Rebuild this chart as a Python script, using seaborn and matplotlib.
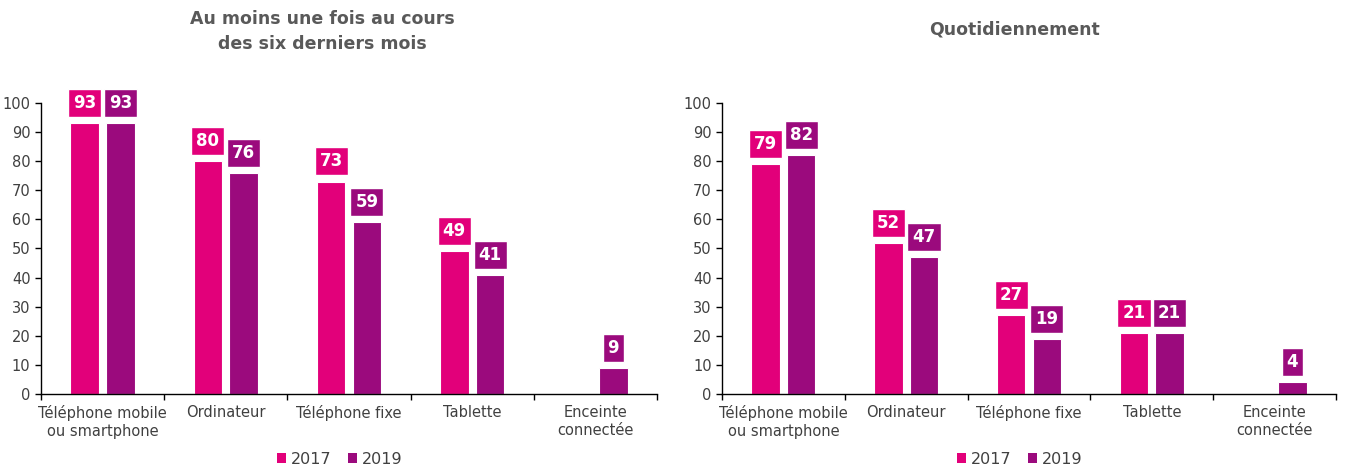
import numpy as np
import pandas as pd
import matplotlib
matplotlib.use('Agg')
import matplotlib.pyplot as plt
import seaborn as sns
from matplotlib.patches import Patch

categories = ['Téléphone mobile\nou smartphone', 'Ordinateur', 'Téléphone fixe',
              'Tablette', 'Enceinte\nconnectée']
years = ['2017', '2019']
six_mois_2017 = [93, 80, 73, 49, np.nan]
six_mois_2019 = [93, 76, 59, 41, 9]
quotidien_2017 = [79, 52, 27, 21, np.nan]
quotidien_2019 = [82, 47, 19, 21, 4]
titles = ['Au moins une fois au cours\ndes six derniers mois', 'Quotidiennement']

palette = {'2017': '#E2007A', '2019': '#9B0A7D'}
text_col = '#404040'

sns.set_style('white')
plt.rcParams['font.family'] = ['DejaVu Sans']


def make_df(v17, v19):
    return pd.DataFrame({
        'categorie': categories * 2,
        'annee': ['2017'] * len(categories) + ['2019'] * len(categories),
        'valeur': list(v17) + list(v19),
    })


fig = plt.figure(figsize=(13.47, 4.66), dpi=100)
ax1 = fig.add_axes([0.0304, 0.1545, 0.4574, 0.6245])
ax2 = fig.add_axes([0.536, 0.1545, 0.4558, 0.6245])

# (axe, données, titre, x du titre, y du titre, x de la légende)
panels = [(ax1, make_df(six_mois_2017, six_mois_2019), titles[0], 0.239, 0.978, 0.485),
          (ax2, make_df(quotidien_2017, quotidien_2019), titles[1], 0.7535, 0.955, 0.485)]

for ax, df, title, tx, ty, lx in panels:
    sns.barplot(data=df, x='categorie', y='valeur', hue='annee', hue_order=years,
                palette=palette, width=0.58, gap=0.2, edgecolor='white',
                linewidth=0.8, saturation=1, ax=ax)

    # étiquettes de valeurs
    for cont, yr in zip(ax.containers, years):
        for bar in cont:
            h = bar.get_height()
            if not np.isfinite(h) or h == 0:
                continue
            ax.annotate(f'{h:.0f}', (bar.get_x() + bar.get_width() / 2, h),
                        xytext=(0, 8), textcoords='offset points',
                        ha='center', va='bottom', color='white',
                        fontsize=12, fontweight='bold',
                        bbox=dict(boxstyle='square,pad=0.3', fc=palette[yr],
                                  ec='white', lw=1))

    ax.set_ylim(0, 100)
    ax.set_xlim(-0.5, 4.5)
    ax.set_yticks(range(0, 101, 10))
    ax.set_xlabel('')
    ax.set_ylabel('')
    ax.tick_params(axis='y', labelsize=10.5, length=4, width=1, direction='out',
                   left=True, color='black', labelcolor=text_col)
    ax.tick_params(axis='x', which='major', length=0, labelsize=10.5,
                   labelcolor=text_col, pad=8)
    ax.set_xticks(np.arange(-0.5, 5, 1), minor=True)
    ax.tick_params(axis='x', which='minor', length=4, width=1, direction='out',
                   bottom=True, color='black')
    sns.despine(ax=ax)
    for s in ['left', 'bottom']:
        ax.spines[s].set_color('black')
        ax.spines[s].set_linewidth(1)

    ax.get_legend().remove()
    handles = [Patch(facecolor=palette[y], edgecolor='none') for y in years]
    ax.legend(handles, years, loc='center', bbox_to_anchor=(lx, -0.225),
              ncol=2, frameon=False, fontsize=11.5, handlelength=0.6,
              handleheight=0.6, handletextpad=0.3, columnspacing=1.0,
              borderpad=0, labelcolor=text_col)

    fig.text(tx, ty, title, ha='center', va='top',
             fontsize=12.5, fontweight='bold', color='#595959', linespacing=1.45)

fig.savefig('out.png', dpi=100)
